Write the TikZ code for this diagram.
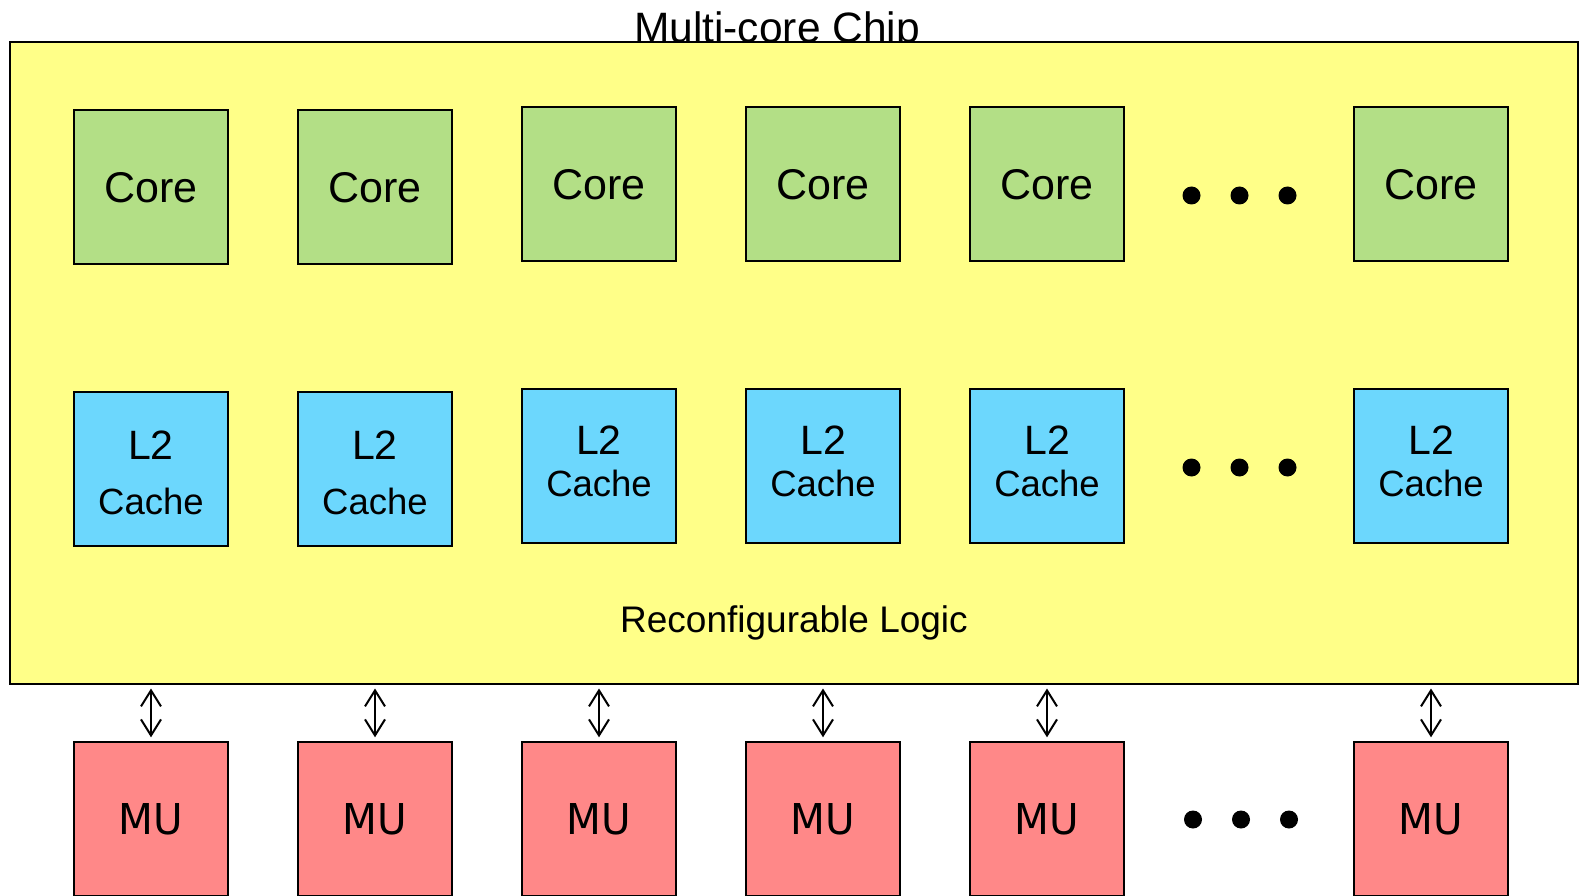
\documentclass[tikz,border=0pt]{standalone}
\usepackage{fontspec}
\setmainfont{Liberation Sans}
\newfontfamily\mufont[FakeStretch=0.95]{DejaVu Sans}
\usepackage{tikz}
\usetikzlibrary{arrows.meta, positioning}

\definecolor{chipyellow}{RGB}{255,255,136}
\definecolor{coregreen}{RGB}{179,223,134}
\definecolor{cacheblue}{RGB}{108,215,253}
\definecolor{mured}{RGB}{255,136,136}

\newcommand{\cachefont}{\fontsize{36.5}{42}\selectfont}

\begin{document}
\begin{tikzpicture}[
    x=1pt, y=-1pt,
    unit/.style={draw, line width=2pt, minimum size=154pt, inner sep=0pt, outer sep=0pt, align=center},
    core/.style={unit, fill=coregreen, font=\fontsize{43}{44}\selectfont},
    cache/.style={unit, fill=cacheblue, font=\fontsize{41}{42}\selectfont, text depth=10pt},
    widecache/.style={cache, text depth=0pt, text height=91pt},
    mu/.style={unit, fill=mured, font=\mufont\fontsize{42.5}{44}\selectfont},
    link/.style={{Straight Barb[length=16pt,width=20pt]}-{Straight Barb[length=16pt,width=20pt]}, line width=2pt, shorten <=5pt, shorten >=5pt},
    node distance=70pt
]
    \clip (0,0) rectangle (1583,896);

    % chip outline, title sits behind it
    \node[anchor=base, font=\fontsize{42.5}{44}\selectfont] (title) at (777,42.5) {Multi-core Chip};
    \node[draw, line width=2pt, fill=chipyellow, minimum width=1568pt, minimum height=641pt, inner sep=0pt, outer sep=0pt] (chip) at (794,363) {};
    \node[anchor=base, font=\fontsize{37}{40}\selectfont] (logic) at ([yshift=51pt]chip.south) {Reconfigurable Logic};

    % cores
    \node[core] (c1) at (151,187.3) {Core};
    \node[core, right=of c1] (c2) {Core};
    \node[core, right=of c2, yshift=3pt] (c3) {Core};
    \node[core, right=of c3] (c4) {Core};
    \node[core, right=of c4] (c5) {Core};
    \node[core, right=230pt of c5] (c6) {Core};

    % L2 caches
    \node[widecache, below=128pt of c1] (l1) {L2\\[13pt]\cachefont Cache};
    \node[widecache, below=128pt of c2] (l2) {L2\\[13pt]\cachefont Cache};
    \node[cache, below=128pt of c3] (l3) {L2\\\cachefont Cache};
    \node[cache, below=128pt of c4] (l4) {L2\\\cachefont Cache};
    \node[cache, below=128pt of c5] (l5) {L2\\\cachefont Cache};
    \node[cache, below=128pt of c6] (l6) {L2\\\cachefont Cache};

    % memory units
    \node[mu, below=196pt of l1] (m1) {MU};
    \node[mu, right=of m1] (m2) {MU};
    \node[mu, right=of m2] (m3) {MU};
    \node[mu, right=of m3] (m4) {MU};
    \node[mu, right=of m4] (m5) {MU};
    \node[mu, right=230pt of m5] (m6) {MU};

    \foreach \m in {m1,m2,m3,m4,m5,m6}
        \draw[link] (\m.north) -- (\m.north |- chip.south);

    % ellipses
    \foreach \x in {1191.5,1239.5,1287.5} \fill (\x,195.5) circle (9pt);
    \foreach \x in {1191.5,1239.5,1287.5} \fill (\x,467.5) circle (9pt);
    \foreach \x in {1193,1241,1289} \fill (\x,819.5) circle (9pt);
\end{tikzpicture}
\end{document}
